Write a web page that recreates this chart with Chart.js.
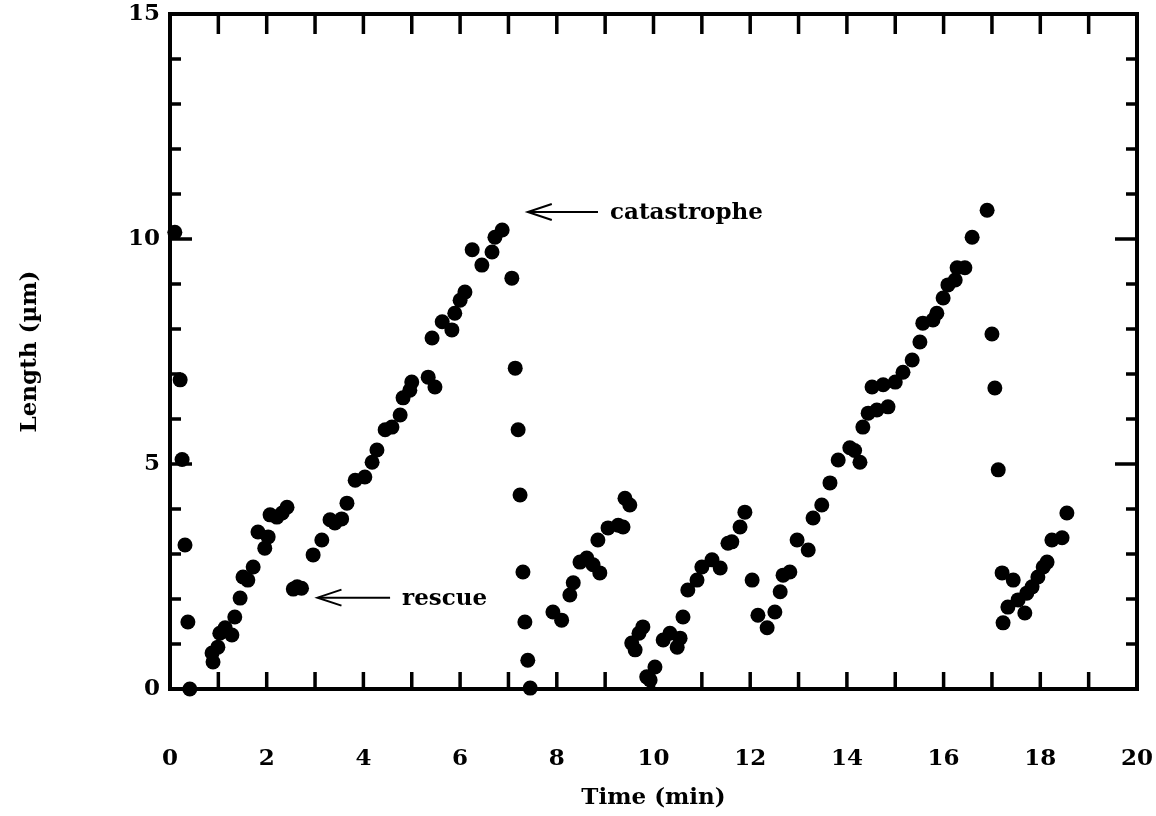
<!DOCTYPE html>
<html>
<head>
<meta charset="utf-8">
<script src="https://cdn.jsdelivr.net/npm/chart.js@4/dist/chart.umd.min.js"></script>
<style>
  html, body { margin: 0; padding: 0; background: #fff; }
  #wrap { width: 1156px; height: 816px; }
</style>
</head>
<body>
<div id="wrap"><canvas id="length_chart_canvas"></canvas></div>
<script>
// 時間 (min) 與長度 (µm)
const timeMin = [
  0.10, 0.21, 0.25, 0.31, 0.37, 0.41,
  0.87, 0.89, 0.99, 1.03, 1.14, 1.28, 1.34, 1.45, 1.51, 1.61, 1.72, 1.82, 1.96, 2.03, 2.07, 2.21, 2.32, 2.42,
  2.55, 2.63, 2.72,
  2.96, 3.14, 3.31, 3.41, 3.55, 3.66, 3.83, 4.03, 4.18, 4.28, 4.45, 4.59, 4.76, 4.82, 4.96, 5.00, 5.34, 5.48,
  5.42, 5.63, 5.83, 5.89, 6.00, 6.10, 6.25, 6.45, 6.66, 6.72, 6.87,
  7.07, 7.14, 7.20, 7.24, 7.30, 7.34, 7.40, 7.45,
  7.92, 8.10, 8.27, 8.34, 8.48, 8.62, 8.75, 8.89, 8.85, 9.06, 9.27, 9.37, 9.41, 9.51,
  9.55, 9.62, 9.70, 9.78, 9.86, 9.93, 10.03,
  10.20, 10.34, 10.49, 10.55, 10.61, 10.71, 10.90, 11.00, 11.21, 11.38, 11.54, 11.62, 11.79, 11.89,
  12.04, 12.16, 12.35,
  12.51, 12.62, 12.68, 12.82, 12.97, 13.20, 13.30, 13.48, 13.65, 13.82, 14.06, 14.16, 14.27, 14.33, 14.44,
  14.62, 14.85, 14.52, 14.75, 15.00, 15.16, 15.35, 15.51, 15.57, 15.78, 15.86, 15.99, 16.09, 16.24, 16.28,
  16.44, 16.59, 16.90,
  17.00, 17.06, 17.13, 17.21, 17.23,
  17.33, 17.44, 17.54, 17.68, 17.72, 17.83, 17.95, 18.06, 18.14, 18.24, 18.45, 18.55,
]
const lengthUm = [
  10.15, 6.87, 5.10, 3.20, 1.49, 0.00,
  0.80, 0.60, 0.93, 1.24, 1.36, 1.20, 1.60, 2.02, 2.49, 2.42, 2.71, 3.49, 3.13, 3.38, 3.87, 3.82, 3.91, 4.04,
  2.22, 2.27, 2.24,
  2.98, 3.31, 3.76, 3.69, 3.78, 4.13, 4.64, 4.71, 5.04, 5.31, 5.76, 5.82, 6.09, 6.47, 6.64, 6.82, 6.93, 6.71,
  7.80, 8.16, 7.98, 8.35, 8.64, 8.82, 9.76, 9.42, 9.71, 10.04, 10.20,
  9.13, 7.13, 5.76, 4.31, 2.60, 1.49, 0.64, 0.02,
  1.71, 1.53, 2.09, 2.36, 2.82, 2.91, 2.76, 2.58, 3.31, 3.58, 3.64, 3.60, 4.24, 4.09,
  1.02, 0.87, 1.24, 1.38, 0.27, 0.20, 0.49,
  1.09, 1.24, 0.93, 1.13, 1.60, 2.20, 2.42, 2.71, 2.87, 2.69, 3.24, 3.27, 3.60, 3.93,
  2.42, 1.64, 1.36,
  1.71, 2.16, 2.53, 2.60, 3.31, 3.09, 3.80, 4.09, 4.58, 5.09, 5.36, 5.30, 5.04, 5.82, 6.13,
  6.20, 6.27, 6.71, 6.76, 6.82, 7.04, 7.31, 7.71, 8.13, 8.20, 8.35, 8.69, 8.98, 9.09, 9.36,
  9.36, 10.04, 10.64,
  7.89, 6.69, 4.87, 2.58, 1.47,
  1.82, 2.42, 1.98, 1.69, 2.13, 2.27, 2.49, 2.71, 2.82, 3.31, 3.36, 3.91,
]

// 標註: 箭頭尖端 (x, y) 與文字起點 x
const noteLabels = ['catastrophe', 'rescue']
const noteTipX = [7.4, 3.05]
const noteTipY = [10.6, 2.03]
const noteTextX = [9.1, 4.8]

const FONT = "'DejaVu Serif', 'Liberation Serif', serif"

let points = []
for (let i = 0; i < timeMin.length; i++) {
  points.push({ x: timeMin[i], y: lengthUm[i] })
}

// 內向刻度 + 外框 + 標註
const framePlugin = {
  id: 'framePlugin',
  afterDraw(chart) {
    const ctx = chart.ctx
    const area = chart.chartArea
    const xs = chart.scales.x
    const ys = chart.scales.y
    ctx.save()
    ctx.strokeStyle = '#000'
    ctx.lineCap = 'butt'

    ctx.lineWidth = 4
    ctx.strokeRect(area.left, area.top, area.right - area.left, area.bottom - area.top)

    ctx.lineWidth = 3.5
    for (let v = 1; v < 20; v++) {
      let px = xs.getPixelForValue(v)
      ctx.beginPath()
      ctx.moveTo(px, area.bottom)
      ctx.lineTo(px, area.bottom - 17)
      ctx.moveTo(px, area.top)
      ctx.lineTo(px, area.top + 20)
      ctx.stroke()
    }
    for (let v = 1; v < 15; v++) {
      let py = ys.getPixelForValue(v)
      let len = v % 5 == 0 ? 22 : 11
      ctx.beginPath()
      ctx.moveTo(area.left, py)
      ctx.lineTo(area.left + len, py)
      ctx.moveTo(area.right, py)
      ctx.lineTo(area.right - len, py)
      ctx.stroke()
    }

    ctx.fillStyle = '#000'
    ctx.font = `bold 23px ${FONT}`
    ctx.textBaseline = 'middle'
    ctx.lineWidth = 2
    for (let i = 0; i < noteLabels.length; i++) {
      let tipX = xs.getPixelForValue(noteTipX[i])
      let tipY = ys.getPixelForValue(noteTipY[i])
      let textX = xs.getPixelForValue(noteTextX[i])
      ctx.beginPath()
      ctx.moveTo(textX - 12, tipY)
      ctx.lineTo(tipX + 2, tipY)
      ctx.stroke()
      ctx.beginPath()
      ctx.moveTo(tipX + 24, tipY - 8)
      ctx.lineTo(tipX, tipY)
      ctx.lineTo(tipX + 24, tipY + 8)
      ctx.stroke()
      ctx.textAlign = 'left'
      ctx.fillText(noteLabels[i], textX, tipY + 1)
    }
    ctx.restore()
  },
}

function chart(element, params) {
  let canvas = new Chart(element, params)
  if (canvas == null) console.error('canvas null')
  return canvas
}

let length_chart_canvas = document.getElementById('length_chart_canvas')
let config = {
  type: 'scatter',
  data: {
    datasets: [
      {
        label: 'Length',
        data: points,
        backgroundColor: '#000',
        borderColor: '#000',
        pointRadius: 7.5,
        pointHoverRadius: 7.5,
        borderWidth: 0,
        clip: false,
      },
    ],
  },
  plugins: [framePlugin],
  options: {
    responsive: true,
    maintainAspectRatio: false,
    animation: false,
    layout: { padding: { top: 14, right: 19, left: 12, bottom: 0 } },
    plugins: {
      legend: { display: false },
      tooltip: { enabled: false },
    },
    scales: {
      x: {
        type: 'linear',
        min: 0,
        max: 20,
        afterFit: (s) => {
          s.height = 127
          s.paddingLeft = 0
          s.paddingRight = 0
        },
        grid: { display: false, drawTicks: false },
        border: { display: false },
        ticks: {
          stepSize: 1,
          autoSkip: false,
          maxRotation: 0,
          padding: 56,
          color: '#000',
          font: { family: FONT, size: 23, weight: 'bold' },
          callback: (v) => (v % 2 == 0 ? v : ''),
        },
        title: {
          display: true,
          text: 'Time (min)',
          color: '#000',
          font: { family: FONT, size: 23, weight: 'bold' },
          padding: { top: 8 },
        },
      },
      y: {
        type: 'linear',
        min: 0,
        max: 15,
        afterFit: (s) => {
          s.width = 158
          s.paddingTop = 0
          s.paddingBottom = 0
        },
        grid: { display: false, drawTicks: false },
        border: { display: false },
        ticks: {
          stepSize: 1,
          autoSkip: false,
          padding: 10,
          color: '#000',
          font: { family: FONT, size: 23, weight: 'bold' },
          callback: (v) => (v % 5 == 0 ? v : ''),
        },
        title: {
          display: true,
          text: 'Length (µm)',
          color: '#000',
          font: { family: FONT, size: 23, weight: 'bold' },
          padding: { bottom: 0 },
        },
      },
    },
  },
}
let length_chart_element = chart(length_chart_canvas, config)
</script>
</body>
</html>
